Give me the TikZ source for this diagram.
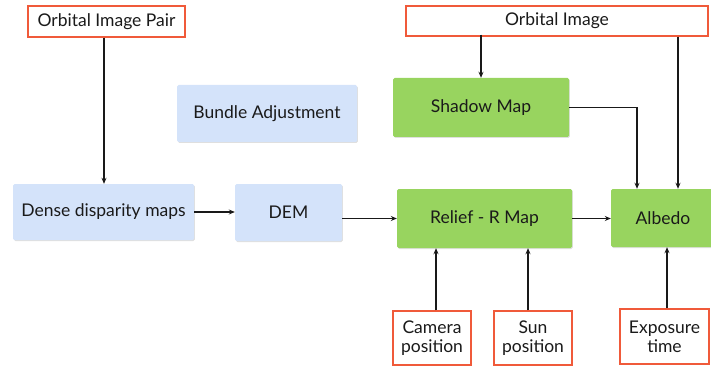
\documentclass[tikz,border=0pt]{standalone}
\usepackage{fontspec}
\setmainfont{Lato}
\usetikzlibrary{arrows.meta,shadows}
\definecolor{redb}{HTML}{F05A3A}
\definecolor{blueb}{HTML}{D4E3FA}
\definecolor{greenb}{HTML}{98D45F}
\definecolor{txt}{HTML}{1A1A1A}
\begin{document}
\begin{tikzpicture}[x=1pt,y=-1pt,
  font=\fontsize{17.5}{20}\selectfont, text=txt,
  inbox/.style={draw=redb, line width=1.3pt, fill=white, align=center, inner sep=0pt},
  bluebox/.style={fill=blueb, rounded corners=1.5pt, inner sep=0pt, align=center,
     drop shadow={shadow xshift=0.8pt, shadow yshift=-1pt, opacity=0.25}},
  greenbox/.style={fill=greenb, rounded corners=1.5pt, inner sep=0pt, align=center,
     drop shadow={shadow xshift=0.8pt, shadow yshift=-1pt, opacity=0.25}},
  conn/.style={line width=1.1pt, draw=black!90, -{Stealth[length=6pt,width=5pt]}}]
\useasboundingbox (0,0) rectangle (711,366);
\clip (0,0) rectangle (711,366);
\node[inbox, minimum width=157pt, minimum height=31pt] (oip) at (106.5,21.5) {Orbital Image Pair};
\node[inbox, minimum width=302pt, minimum height=30pt] (oi) at (557,21) {Orbital Image};
\node[bluebox, minimum width=180pt, minimum height=57pt] (ba) at (267,113.5) {Bundle Adjustment};
\node[greenbox, minimum width=176pt, minimum height=59pt] (sm) at (481,107.5) {Shadow Map};
\node[bluebox, minimum width=181pt, minimum height=56pt] (dd) at (103.5,212) {Dense disparity maps};
\node[bluebox, minimum width=107pt, minimum height=57pt] (dem) at (288.5,212.5) {DEM};
\node[greenbox, minimum width=175pt, minimum height=59pt] (rr) at (484.5,218.5) {Relief - R Map};
\node[greenbox, minimum width=104pt, minimum height=58pt] (alb) at (663,218) {Albedo};
\node[inbox, minimum width=78pt, minimum height=54pt] (cam) at (432,338) {Camera\\[-1pt]position};
\node[inbox, minimum width=78pt, minimum height=54pt] (sun) at (533,338) {Sun\\[-1pt]position};
\node[inbox, minimum width=89pt, minimum height=55pt] (exp) at (664.5,336.5) {Exposure\\[-1pt]time};
\coordinate (xa) at (104,0);
\coordinate (xb) at (637,0);
\coordinate (xc) at (678,0);
\coordinate (xd) at (436,0);
\coordinate (xe) at (528,0);
\coordinate (xf) at (667,0);
\draw[conn] (xa |- oip.south) -- (xa |- dd.north);
\draw[conn] (dd.east) -- (dd.east -| dem.west);
\draw[conn] (dem.east |- rr.west) -- (rr.west);
\draw[conn] (rr.east) -- (rr.east -| alb.west);
\draw[conn] ([yshift=2pt]sm.north |- oi.south) -- (sm.north);
\draw[conn] (sm.east) -| (xb |- alb.north);
\draw[conn] (xc |- oi.south) -- (xc |- alb.north);
\draw[conn] (xd |- cam.north) -- (xd |- rr.south);
\draw[conn] (xe |- sun.north) -- (xe |- rr.south);
\draw[conn] (xf |- exp.north) -- (xf |- alb.south);
\end{tikzpicture}
\end{document}
